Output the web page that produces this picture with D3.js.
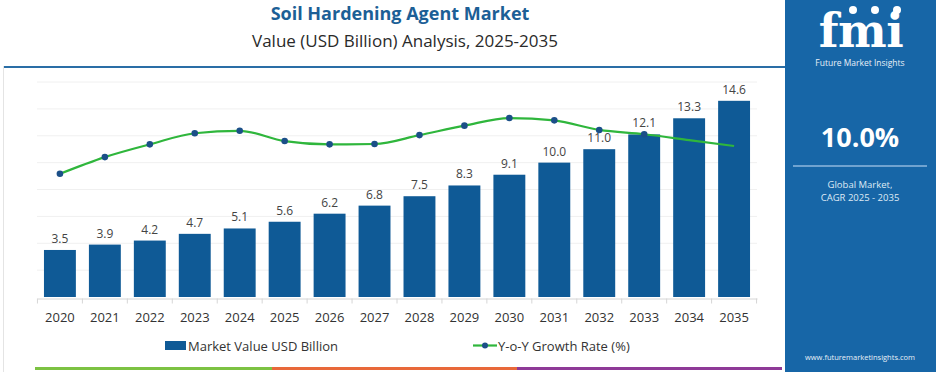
<!DOCTYPE html>
<html>
<head>
<meta charset="utf-8">
<script src="https://cdn.jsdelivr.net/npm/d3@7"></script>
<style>
  html, body { margin: 0; padding: 0; background: #fff; }
  svg { display: block; font-family: "Open Sans", "Noto Sans", sans-serif; }
</style>
</head>
<body>
<div id="chart"></div>
<script>
const years = ["2020", "2021", "2022", "2023", "2024", "2025", "2026", "2027",
  "2028", "2029", "2030", "2031", "2032", "2033", "2034", "2035"];
const marketValue = [3.5, 3.9, 4.2, 4.7, 5.1, 5.6, 6.2, 6.8, 7.5, 8.3, 9.1, 10.0, 11.0, 12.1, 13.3, 14.6];
const growthRate = [7.45, 8.46, 9.23, 9.9, 10.05, 9.43, 9.23, 9.25, 9.79, 10.36, 10.82, 10.68, 10.1, 9.84, 9.49, 9.13];
const valueTicks = [0, 2, 4, 6, 8, 10, 12, 14, 16];

const width = 940;
const height = 372;
const barColor = "#0f5a96";
const lineColor = "#2fb63c";
const dotColor = "#1b4f88";

const svg = d3.select("#chart").append("svg")
  .attr("width", width)
  .attr("height", height);

// card border on the left
svg.append("line")
  .attr("x1", 3.5).attr("x2", 3.5).attr("y1", 66).attr("y2", 372)
  .attr("stroke", "#e4e4e4");

// titles
svg.append("text")
  .attr("x", 400).attr("y", 20)
  .attr("text-anchor", "middle")
  .attr("font-size", 18).attr("font-weight", 700)
  .attr("fill", "#1c5f96")
  .text("Soil Hardening Agent Market");
svg.append("text")
  .attr("x", 405).attr("y", 47)
  .attr("text-anchor", "middle")
  .attr("font-size", 17)
  .attr("fill", "#2a2a2a")
  .text("Value (USD Billion) Analysis, 2025-2035");

svg.append("line")
  .attr("x1", 4).attr("x2", 785).attr("y1", 67).attr("y2", 67)
  .attr("stroke", "#2a6ea6").attr("stroke-width", 2);

// scales
const x = d3.scaleBand()
  .domain(years)
  .range([37, 757])
  .paddingInner(0.29)
  .paddingOuter(0.155);
const y = d3.scaleLinear().domain([0, 16]).range([297, 82]);
const yGrowth = d3.scaleLinear().domain([0, 13]).range([297, 82]);

// grid
svg.append("g")
  .selectAll("line")
  .data(valueTicks.slice(1))
  .join("line")
  .attr("x1", 37).attr("x2", 757)
  .attr("y1", d => y(d)).attr("y2", d => y(d))
  .attr("stroke", "#f0f0f0");

// bars
svg.append("g")
  .selectAll("rect")
  .data(marketValue)
  .join("rect")
  .attr("x", (d, i) => x(years[i]))
  .attr("y", d => y(d))
  .attr("width", x.bandwidth())
  .attr("height", d => y(0) - y(d))
  .attr("fill", barColor);

// bar labels
svg.append("g")
  .selectAll("text")
  .data(marketValue)
  .join("text")
  .attr("x", (d, i) => x(years[i]) + x.bandwidth() / 2)
  .attr("y", d => y(d) - 7)
  .attr("text-anchor", "middle")
  .attr("font-size", 12)
  .attr("fill", "#444")
  .text(d => d.toFixed(1));

// x axis
const xAxis = d3.axisBottom(x).tickSize(0).tickPadding(14);
const gx = svg.append("g")
  .attr("transform", `translate(0,${y(0) + 1.5})`)
  .call(xAxis);
gx.select(".domain").attr("stroke", "#d6d6d6");
gx.selectAll("text").attr("font-size", 13).attr("fill", "#333")
  .attr("font-family", "'Open Sans', sans-serif");
const step = x.step();
gx.selectAll(".sep")
  .data(years.concat(["end"]))
  .join("line")
  .attr("class", "sep")
  .attr("x1", (d, i) => x(years[0]) - step * 0.145 + i * step)
  .attr("x2", (d, i) => x(years[0]) - step * 0.145 + i * step)
  .attr("y1", 0).attr("y2", 5)
  .attr("stroke", "#d6d6d6");

// growth line
const line = d3.line()
  .x((d, i) => x(years[i]) + x.bandwidth() / 2)
  .y(d => yGrowth(d))
  .curve(d3.curveMonotoneX);
svg.append("path")
  .datum(growthRate)
  .attr("d", line)
  .attr("fill", "none")
  .attr("stroke", lineColor)
  .attr("stroke-width", 2.2);
svg.append("g")
  .selectAll("circle")
  .data(growthRate.slice(0, 14))
  .join("circle")
  .attr("cx", (d, i) => x(years[i]) + x.bandwidth() / 2)
  .attr("cy", d => yGrowth(d))
  .attr("r", 3.3)
  .attr("fill", dotColor);

// legend
const legend = svg.append("g").attr("font-size", 13).attr("fill", "#333");
legend.append("rect")
  .attr("x", 165).attr("y", 341).attr("width", 21).attr("height", 9)
  .attr("fill", barColor);
legend.append("text")
  .attr("x", 188).attr("y", 350.5)
  .attr("fill", "#333")
  .text("Market Value USD Billion");
legend.append("line")
  .attr("x1", 473).attr("x2", 497).attr("y1", 345.5).attr("y2", 345.5)
  .attr("stroke", lineColor).attr("stroke-width", 2.2);
legend.append("circle")
  .attr("cx", 485).attr("cy", 345.5).attr("r", 3)
  .attr("fill", dotColor);
legend.append("text")
  .attr("x", 498).attr("y", 350.5)
  .attr("fill", "#333")
  .text("Y-o-Y Growth Rate (%)");

// bottom colour strip
const strip = [
  { x0: 35, x1: 272, c: "#7cc242" },
  { x0: 272, x1: 517, c: "#e8683a" },
  { x0: 517, x1: 782, c: "#8e3a97" }
];
svg.append("g")
  .selectAll("rect")
  .data(strip)
  .join("rect")
  .attr("x", d => d.x0).attr("y", 367)
  .attr("width", d => d.x1 - d.x0).attr("height", 3)
  .attr("fill", d => d.c);

// right panel
const panel = svg.append("g");
panel.append("rect")
  .attr("x", 785).attr("y", 0).attr("width", 151).attr("height", 372)
  .attr("fill", "#1766a7");
panel.append("text")
  .attr("x", 861).attr("y", 47)
  .attr("text-anchor", "middle")
  .attr("font-family", "'DejaVu Serif', serif")
  .attr("font-size", 46).attr("font-weight", 700)
  .attr("letter-spacing", -0.5)
  .attr("fill", "#fff")
  .text("fmi");
panel.selectAll(".icon")
  .data([[853, 10], [875, 10], [897, 10]])
  .join("circle")
  .attr("class", "icon")
  .attr("cx", d => d[0]).attr("cy", d => d[1])
  .attr("r", 4)
  .attr("fill", "#fff");
panel.append("text")
  .attr("x", 860).attr("y", 66)
  .attr("text-anchor", "middle")
  .attr("font-size", 8.5)
  .attr("fill", "#e8f0f8")
  .text("Future Market Insights");
panel.append("text")
  .attr("x", 860).attr("y", 147)
  .attr("text-anchor", "middle")
  .attr("font-size", 27).attr("font-weight", 700)
  .attr("fill", "#fff")
  .text("10.0%");
panel.append("line")
  .attr("x1", 793).attr("x2", 927).attr("y1", 166).attr("y2", 166)
  .attr("stroke", "#8fb9de").attr("stroke-width", 1.5);
panel.append("text")
  .attr("x", 860).attr("y", 188)
  .attr("text-anchor", "middle")
  .attr("font-size", 9.5)
  .attr("fill", "#dfeaf5")
  .text("Global Market,");
panel.append("text")
  .attr("x", 860).attr("y", 201)
  .attr("text-anchor", "middle")
  .attr("font-size", 9.5)
  .attr("fill", "#dfeaf5")
  .text("CAGR 2025 - 2035");
panel.append("text")
  .attr("x", 860).attr("y", 360)
  .attr("text-anchor", "middle")
  .attr("font-size", 7.5)
  .attr("fill", "#e8f0f8")
  .text("www.futuremarketinsights.com");
</script>
</body>
</html>
